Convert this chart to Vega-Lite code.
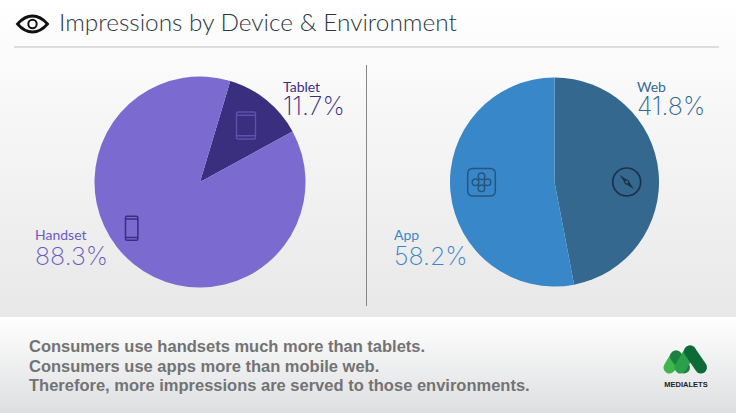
{
"$schema":"https://vega.github.io/schema/vega-lite/v6.json",
"width":736,"height":413,
"autosize":{"type":"none"},
"padding":0,
"background":"#ffffff",
"view":{"stroke":null},
"config":{"text":{"baseline":"alphabetic"}},
"datasets":{
"slices":[
{"chart":"Device","segment":"Tablet","order":1,"drawn":12.4,"percent":"11.7%"},
{"chart":"Device","segment":"Handset","order":2,"drawn":87.6,"percent":"88.3%"},
{"chart":"Environment","segment":"Web","order":1,"drawn":47.0,"percent":"41.8%"},
{"chart":"Environment","segment":"App","order":2,"drawn":53.0,"percent":"58.2%"}
],
"takeaways":[
{"line":1,"text":"Consumers use handsets much more than tablets."},
{"line":2,"text":"Consumers use apps more than mobile web."},
{"line":3,"text":"Therefore, more impressions are served to those environments."}
],
"one":[{"a":1}]
},
"layer":[
{"data":{"name":"one"},"mark":{"type":"rect","x":0,"x2":736,"y":0,"y2":317,"color":{"gradient":"linear","x1":0,"y1":0,"x2":0,"y2":1,"stops":[{"offset":0,"color":"#ffffff"},{"offset":1,"color":"#e8e8e8"}]}},"encoding":{}},
{"data":{"name":"one"},"mark":{"type":"rect","x":0,"x2":736,"y":317,"y2":413,"color":{"gradient":"linear","x1":0,"y1":0,"x2":0,"y2":1,"stops":[{"offset":0,"color":"#ffffff"},{"offset":1,"color":"#dedfe1"}]}},"encoding":{}},
{"data":{"name":"one"},"mark":{"type":"rule","color":"#dddddd","strokeWidth":2},"encoding":{"x":{"value":14},"x2":{"value":719},"y":{"value":47}}},
{"data":{"name":"one"},"mark":{"type":"rule","color":"#888888","strokeWidth":1},"encoding":{"x":{"value":366.5},"y":{"value":65},"y2":{"value":306}}},
{"data":{"values":[{"t":"Impressions by Device & Environment"}]},"mark":{"type":"text","x":59,"y":31,"align":"left","baseline":"alphabetic","font":"Lato","fontWeight":300,"fontSize":24.4,"color":"#2f3642"},"encoding":{"text":{"field":"t"}}},
{"data":{"name":"one"},"mark":{"type":"point","x":32.5,"y":24,"size":400,"opacity":1,"filled":false,"stroke":"#111111","strokeWidth":2.8,"shape":"M-1.5 0 Q-0.8 -0.8 0 -0.8 Q0.8 -0.8 1.5 0 Q0.8 0.8 0 0.8 Q-0.8 0.8 -1.5 0Z"},"encoding":{}},
{"data":{"name":"one"},"mark":{"type":"point","x":32.5,"y":24,"size":400,"opacity":1,"filled":false,"stroke":"#111111","strokeWidth":2,"shape":"M0.42 0 A0.42 0.42 0 1 0 -0.42 0 A0.42 0.42 0 1 0 0.42 0Z"},"encoding":{}},
{"data":{"name":"slices"},"transform":[{"filter":"datum.chart=='Device'"}],
 "mark":{"type":"arc","outerRadius":105.5,"y":182},
 "encoding":{"x":{"field":"chart","type":"nominal","scale":{"type":"point","domain":["Device"],"range":[200,200],"padding":0},"axis":null},
 "theta":{"field":"drawn","type":"quantitative","stack":true,"scale":{"domain":[0,100],"range":[0.2915,6.5747]}},
 "order":{"field":"order"},
 "color":{"field":"segment","type":"nominal","legend":null,"scale":{"domain":["Tablet","Handset","Web","App"],"range":["#3a2e7f","#7b6bd0","#35688f","#3887c9"]}}}},
{"data":{"name":"slices"},"transform":[{"filter":"datum.chart=='Environment'"}],
 "mark":{"type":"arc","outerRadius":104.5,"y":182},
 "encoding":{"x":{"field":"chart","type":"nominal","scale":{"type":"point","domain":["Environment"],"range":[554.5,554.5],"padding":0},"axis":null},
 "theta":{"field":"drawn","type":"quantitative","stack":true,"scale":{"domain":[0,100],"range":[0,6.2832]}},
 "order":{"field":"order"},
 "color":{"field":"segment","type":"nominal","legend":null,"scale":{"domain":["Tablet","Handset","Web","App"],"range":["#3a2e7f","#7b6bd0","#35688f","#3887c9"]}}}},
{"data":{"name":"one"},"mark":{"type":"point","x":246,"y":125.5,"size":400,"opacity":1,"filled":false,"stroke":"#5f50ad","strokeWidth":1.4,"shape":"M-0.8 -1.35 L0.8 -1.35 Q0.95 -1.35 0.95 -1.2 L0.95 1.2 Q0.95 1.35 0.8 1.35 L-0.8 1.35 Q-0.95 1.35 -0.95 1.2 L-0.95 -1.2 Q-0.95 -1.35 -0.8 -1.35Z M-0.95 -1.03 L0.95 -1.03 M-0.95 1.03 L0.95 1.03"},"encoding":{}},
{"data":{"name":"one"},"mark":{"type":"point","x":131.7,"y":228.3,"size":400,"opacity":1,"filled":false,"stroke":"#3a2e7f","strokeWidth":1.5,"shape":"M-0.47 -1.2 L0.47 -1.2 Q0.62 -1.2 0.62 -1.05 L0.62 1.05 Q0.62 1.2 0.47 1.2 L-0.47 1.2 Q-0.62 1.2 -0.62 1.05 L-0.62 -1.05 Q-0.62 -1.2 -0.47 -1.2Z M-0.62 -0.92 L0.62 -0.92 M-0.62 0.92 L0.62 0.92"},"encoding":{}},
{"data":{"name":"one"},"mark":{"type":"point","x":481.5,"y":182.3,"size":400,"opacity":1,"filled":false,"stroke":"#27567c","strokeWidth":1.5,"shape":"M-0.85 -1.38 L0.85 -1.38 Q1.38 -1.38 1.38 -0.85 L1.38 0.85 Q1.38 1.38 0.85 1.38 L-0.85 1.38 Q-1.38 1.38 -1.38 0.85 L-1.38 -0.85 Q-1.38 -1.38 -0.85 -1.38Z M0.33 -0.6 A0.33 0.33 0 1 0 -0.33 -0.6 A0.33 0.33 0 1 0 0.33 -0.6Z M0.33 0.6 A0.33 0.33 0 1 0 -0.33 0.6 A0.33 0.33 0 1 0 0.33 0.6Z M0.93 0 A0.33 0.33 0 1 0 0.27 0 A0.33 0.33 0 1 0 0.93 0Z M-0.27 0 A0.33 0.33 0 1 0 -0.93 0 A0.33 0.33 0 1 0 -0.27 0Z"},"encoding":{}},
{"data":{"name":"one"},"mark":{"type":"point","x":626.7,"y":182,"size":400,"opacity":1,"filled":false,"stroke":"#1e3147","strokeWidth":1.7,"shape":"M1.4 0 A1.4 1.4 0 1 0 -1.4 0 A1.4 1.4 0 1 0 1.4 0Z"},"encoding":{}},
{"data":{"name":"one"},"mark":{"type":"point","x":626.7,"y":182,"size":400,"opacity":1,"filled":true,"color":"#1e3147","shape":"M-0.72 -0.72 L0.2 -0.1 L0.72 0.72 L-0.1 0.2Z"},"encoding":{}},
{"data":{"name":"one"},"mark":{"type":"point","x":626.7,"y":182,"size":400,"opacity":1,"filled":true,"fill":"#35688f","stroke":"#1e3147","strokeWidth":1.2,"shape":"M0.2 0 A0.2 0.2 0 1 0 -0.2 0 A0.2 0.2 0 1 0 0.2 0Z"},"encoding":{}},

{"data":{"name":"slices"},"transform":[{"filter":"datum.segment=='Handset'"}],"mark":{"type":"text","x":35,"y":240,"align":"left","baseline":"alphabetic","font":"Lato","fontWeight":400,"fontSize":14,"color":"#6b5cc0"},"encoding":{"text":{"field":"segment"}}},
{"data":{"name":"slices"},"transform":[{"filter":"datum.segment=='Handset'"}],"mark":{"type":"text","x":35,"y":265,"align":"left","baseline":"alphabetic","font":"Inter","fontWeight":200,"fontSize":25,"color":"#6b5cc0"},"encoding":{"text":{"field":"percent"}}},
{"data":{"name":"slices"},"transform":[{"filter":"datum.segment=='Tablet'"}],"mark":{"type":"text","x":283,"y":92,"align":"left","baseline":"alphabetic","font":"Lato","fontWeight":400,"fontSize":14,"color":"#3a2e7f"},"encoding":{"text":{"field":"segment"}}},
{"data":{"name":"slices"},"transform":[{"filter":"datum.segment=='Tablet'"}],"mark":{"type":"text","x":283,"y":115,"align":"left","baseline":"alphabetic","font":"Inter","fontWeight":200,"fontSize":25,"color":"#3a2e7f"},"encoding":{"text":{"field":"percent"}}},
{"data":{"name":"slices"},"transform":[{"filter":"datum.segment=='App'"}],"mark":{"type":"text","x":394,"y":240,"align":"left","baseline":"alphabetic","font":"Lato","fontWeight":400,"fontSize":14,"color":"#3887c9"},"encoding":{"text":{"field":"segment"}}},
{"data":{"name":"slices"},"transform":[{"filter":"datum.segment=='App'"}],"mark":{"type":"text","x":394,"y":265,"align":"left","baseline":"alphabetic","font":"Inter","fontWeight":200,"fontSize":25,"color":"#3887c9"},"encoding":{"text":{"field":"percent"}}},
{"data":{"name":"slices"},"transform":[{"filter":"datum.segment=='Web'"}],"mark":{"type":"text","x":637,"y":92,"align":"left","baseline":"alphabetic","font":"Lato","fontWeight":400,"fontSize":14,"color":"#35688f"},"encoding":{"text":{"field":"segment"}}},
{"data":{"name":"slices"},"transform":[{"filter":"datum.segment=='Web'"}],"mark":{"type":"text","x":637,"y":115,"align":"left","baseline":"alphabetic","font":"Inter","fontWeight":200,"fontSize":25,"color":"#35688f"},"encoding":{"text":{"field":"percent"}}},

{"data":{"name":"takeaways"},
 "mark":{"type":"text","align":"left","baseline":"alphabetic","x":29,"font":"Liberation Sans","fontWeight":"bold","fontSize":16.5,"color":"#737373"},
 "encoding":{"text":{"field":"text"},"y":{"field":"line","type":"ordinal","axis":null,"scale":{"type":"point","domain":[1,2,3],"range":[352,391],"padding":0}}}},

{"data":{"name":"one"},"mark":{"type":"point","x":686,"y":360,"size":400,"opacity":1,"filled":false,"stroke":"#3fb54c","strokeWidth":12,"strokeCap":"round","shape":"M-1.65 0.75 L-1.0 -0.35"},"encoding":{}},
{"data":{"name":"one"},"mark":{"type":"point","x":686,"y":360,"size":400,"opacity":1,"filled":false,"stroke":"#1c8040","strokeWidth":12,"strokeCap":"round","shape":"M-1.0 -0.35 L-0.2 0.75"},"encoding":{}},
{"data":{"name":"one"},"mark":{"type":"point","x":686,"y":360,"size":400,"opacity":1,"filled":false,"stroke":"#2aa04a","strokeWidth":12,"strokeCap":"round","shape":"M-0.55 0.75 L0.4 -0.85"},"encoding":{}},
{"data":{"name":"one"},"mark":{"type":"point","x":686,"y":360,"size":400,"opacity":1,"filled":false,"stroke":"#0e6b37","strokeWidth":12,"strokeCap":"round","shape":"M0.4 -0.85 L1.5 0.75"},"encoding":{}},
{"data":{"values":[{"t":"MEDIALETS"}]},"mark":{"type":"text","x":686,"y":387,"align":"center","baseline":"alphabetic","font":"Liberation Sans","fontWeight":"bold","fontSize":7.5,"color":"#222222"},"encoding":{"text":{"field":"t"}}}
],
"resolve":{"scale":{"x":"independent","y":"independent","theta":"independent","color":"independent"}}
}
